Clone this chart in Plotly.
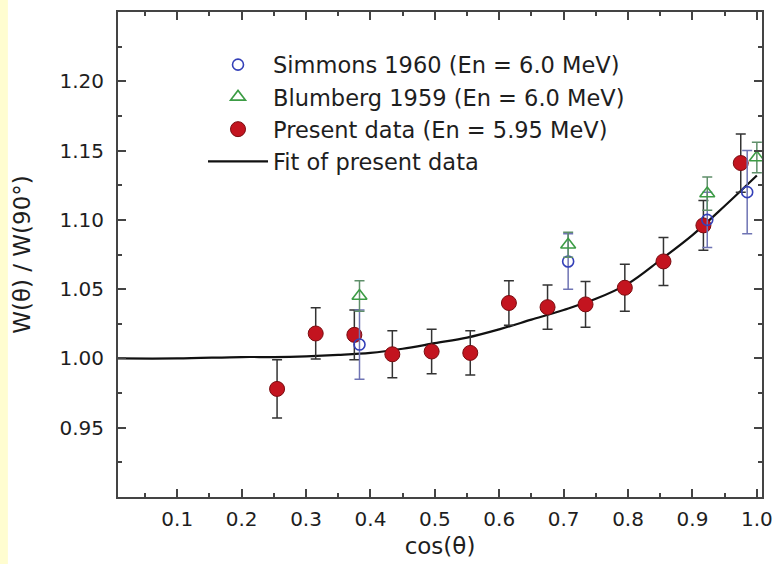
import plotly.graph_objects as go

# Present data (En = 5.95 MeV)
present_x = [0.255, 0.315, 0.375, 0.434, 0.495, 0.555, 0.615, 0.675, 0.734, 0.795, 0.855, 0.917, 0.975]
present_y = [0.978, 1.018, 1.017, 1.003, 1.005, 1.004, 1.040, 1.037, 1.039, 1.051, 1.070, 1.096, 1.141]
present_err = [0.021, 0.0185, 0.018, 0.017, 0.016, 0.016, 0.016, 0.016, 0.0165, 0.017, 0.0173, 0.018, 0.021]

# Simmons 1960 (En = 6.0 MeV)
simmons_x = [0.383, 0.707, 0.923, 0.985]
simmons_y = [1.010, 1.070, 1.100, 1.120]
simmons_err = [0.025, 0.020, 0.020, 0.030]

# Blumberg 1959 (En = 6.0 MeV)
blumberg_x = [0.383, 0.707, 0.923, 1.000]
blumberg_y = [1.045, 1.082, 1.119, 1.145]
blumberg_err = [0.011, 0.009, 0.012, 0.011]

# Fit of present data
fit_x = [0.008, 0.1, 0.2, 0.25, 0.3, 0.35, 0.4, 0.45, 0.5, 0.55, 0.6, 0.65, 0.7, 0.75, 0.8, 0.85, 0.9, 0.95, 1.0]
fit_y = [1.000, 1.000, 1.001, 1.001, 1.0015, 1.0025, 1.004, 1.007, 1.011, 1.015, 1.021, 1.028, 1.035, 1.043, 1.054, 1.071, 1.089, 1.110, 1.132]

x_ticks = [0.1, 0.2, 0.3, 0.4, 0.5, 0.6, 0.7, 0.8, 0.9, 1.0]
x_labels = ["0.1", "0.2", "0.3", "0.4", "0.5", "0.6", "0.7", "0.8", "0.9", "1.0"]
y_ticks = [0.95, 1.00, 1.05, 1.10, 1.15, 1.20]
y_labels = ["0.95", "1.00", "1.05", "1.10", "1.15", "1.20"]

FONT = "DejaVu Sans"
AX = "#444444"
TXT = "#1e1e1e"

fig = go.Figure()

fig.add_trace(go.Scatter(
    x=fit_x, y=fit_y, mode="lines", name="Fit of present data",
    line=dict(color="#111111", width=2.2, shape="spline"), legendrank=4))

fig.add_trace(go.Scatter(
    x=present_x, y=present_y, mode="markers", name="Present data (En = 5.95 MeV)",
    marker=dict(symbol="circle", size=15, color="#c3141f", line=dict(color="#7a0c10", width=1)),
    error_y=dict(type="data", array=present_err, color="#333333", thickness=1.5, width=5),
    legendrank=3))

fig.add_trace(go.Scatter(
    x=simmons_x, y=simmons_y, mode="markers", name="Simmons 1960 (En = 6.0 MeV)",
    marker=dict(symbol="circle-open", size=11, color="#3440b8", line=dict(width=1.6)),
    error_y=dict(type="data", array=simmons_err, color="#6f74b4", thickness=1.5, width=5),
    legendrank=1))

fig.add_trace(go.Scatter(
    x=blumberg_x, y=blumberg_y, mode="markers", name="Blumberg 1959 (En = 6.0 MeV)",
    marker=dict(symbol="triangle-up-open", size=13, color="#3c9c45", line=dict(width=1.6)),
    error_y=dict(type="data", array=blumberg_err, color="#5f8f6a", thickness=1.5, width=5),
    legendrank=2))

axis_common = dict(
    showline=True, linecolor=AX, linewidth=2, mirror="allticks",
    ticks="inside", ticklen=8, tickwidth=1.5, tickcolor=AX,
    showgrid=False, zeroline=False,
    tickfont=dict(family=FONT, size=20, color=TXT),
)

fig.update_xaxes(
    range=[0.008, 1.008], tickvals=x_ticks, ticktext=x_labels,
    minor=dict(dtick=0.05, tick0=0, ticks="inside", ticklen=4, tickwidth=1.5, tickcolor=AX),
    title=dict(text="cos(θ)", font=dict(family=FONT, size=23, color=TXT), standoff=8),
    ticklabelstandoff=3,
    **axis_common)
fig.update_yaxes(
    range=[0.90, 1.25], tickvals=y_ticks, ticktext=y_labels,
    minor=dict(dtick=0.025, tick0=0.9, ticks="inside", ticklen=4, tickwidth=1.5, tickcolor=AX),
    title=dict(text="W(θ) / W(90°)", font=dict(family=FONT, size=23, color=TXT), standoff=22),
    ticklabelstandoff=8,
    **axis_common)

fig.add_shape(type="rect", xref="paper", yref="paper",
              x0=-0.25, x1=(6-118)/655, y0=-0.3, y1=1.2,
              fillcolor="#fffdd0", line=dict(width=0), layer="below")

fig.update_layout(
    width=782, height=564,
    margin=dict(l=118, r=9, t=12, b=67),
    paper_bgcolor="white", plot_bgcolor="white",
    showlegend=True,
    legend=dict(x=0.132, y=0.935, xanchor="left", yanchor="top",
                bgcolor="rgba(0,0,0,0)", borderwidth=0,
                font=dict(family=FONT, size=22.5, color=TXT),
                itemwidth=60, tracegroupgap=0),
)

fig.write_html("out.html")
